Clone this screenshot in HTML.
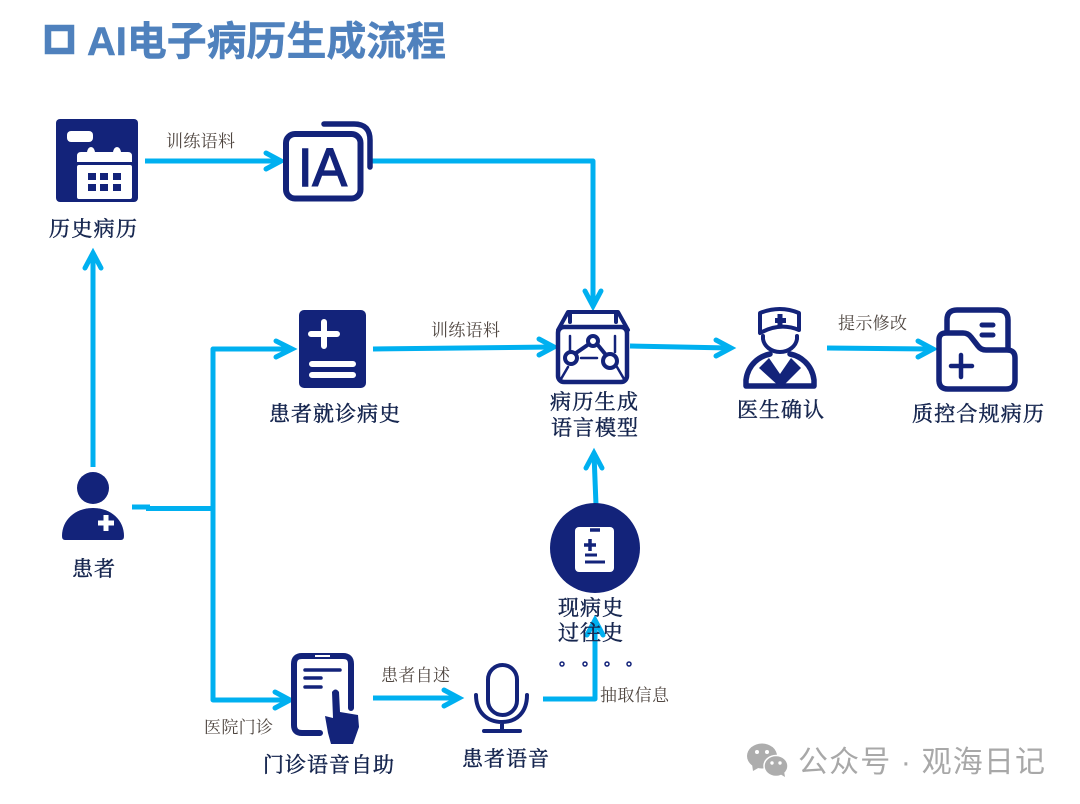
<!DOCTYPE html>
<html lang="zh">
<head>
<meta charset="utf-8">
<title>AI电子病历生成流程</title>
<style>
html,body{margin:0;padding:0;background:#fff;width:1080px;height:804px;overflow:hidden}
svg{display:block}
.b{font-family:"Liberation Serif","Noto Serif CJK SC",serif;font-weight:400;font-size:21px;fill:#16264f;stroke:#16264f;stroke-width:0.450px}
.s{font-family:"Liberation Serif","Noto Serif CJK SC",serif;font-size:17px;fill:#4f4640}
.l{fill:none;stroke:#00b0f0;stroke-width:5;stroke-linejoin:round}
.h{fill:none;stroke:#00b0f0;stroke-width:5;stroke-linecap:round;stroke-linejoin:miter}
.n{fill:none;stroke:#13237a;stroke-linecap:round;stroke-linejoin:round}
.w{fill:none;stroke:#fff;stroke-linecap:round}
</style>
</head>
<body>
<svg width="1080" height="804" viewBox="0 0 1080 804" xmlns="http://www.w3.org/2000/svg">
<!-- title -->
<rect x="48" y="28" width="23" height="23" fill="none" stroke="#4f81bd" stroke-width="6.500"/>
<text x="87" y="55" font-family="'Liberation Sans','Noto Sans CJK SC',sans-serif" font-weight="700" font-size="40" fill="#4f81bd" stroke="#4f81bd" stroke-width="0.500" textLength="359" lengthAdjust="spacingAndGlyphs">AI电子病历生成流程</text>

<!-- connectors -->
<path class="l" d="M145 161H280"/><path class="h" d="M266 153L281 161L266 169"/>
<path class="l" d="M371 161H593V305"/><path class="h" d="M585 291L593 306L601 291"/>
<path class="l" d="M93 467V254"/><path class="h" d="M85 268L93 253L101 268"/>
<path class="l" d="M132 507H150"/><path class="l" d="M146 508.500H213"/>
<path class="l" d="M213 700V349H291"/><path class="h" d="M276 341L292 349L276 357"/>
<path class="l" d="M213 400V700H289"/><path class="h" d="M275 692L290 700L275 708"/>
<path class="l" d="M373 349L553 347"/><path class="h" d="M539 339L554 347L539 355"/>
<path class="l" d="M630 346L730 348"/><path class="h" d="M716 340L731 348L716 356"/>
<path class="l" d="M827 348L932 349"/><path class="h" d="M918 341L933 349L918 357"/>
<path class="l" d="M373 698H458"/><path class="h" d="M444 690L459 698L444 706"/>
<path class="l" d="M596 505L594 454"/><path class="h" d="M586 468L594 453L602 468"/>
<path class="l" d="M543 699H595V621"/><path class="h" d="M587 635L595 620L603 635"/>

<!-- calendar -->
<rect x="56" y="119" width="82" height="83" rx="4" fill="#13237a"/>
<rect x="67" y="131" width="26" height="11" rx="4" fill="#fff"/>
<path d="M77 162V156Q77 152 81 152H87Q88 147 91 147Q94 147 95 152H113Q114 147 117 147Q120 147 121 152H128Q132 152 132 156V162Z" fill="#fff"/>
<rect x="77" y="165" width="55" height="34" rx="2" fill="#fff"/>
<g fill="#13237a">
<rect x="88" y="173" width="8" height="7"/><rect x="100" y="173" width="8" height="7"/><rect x="113" y="173" width="8" height="7"/>
<rect x="88" y="184" width="8" height="7"/><rect x="100" y="184" width="8" height="7"/><rect x="113" y="184" width="8" height="7"/>
</g>
<!-- IA -->
<rect x="286" y="134" width="74.500" height="64.500" rx="9" class="n" stroke-width="6"/>
<path class="n" stroke-width="5.500" d="M324 124H354Q370 124 370 140V167"/>
<text x="298" y="186" font-family="'Liberation Sans',sans-serif" font-weight="400" font-size="54" fill="#13237a" stroke="#13237a" stroke-width="1.500" textLength="49" lengthAdjust="spacingAndGlyphs">IA</text>
<!-- book -->
<rect x="299" y="310" width="67" height="78" rx="5" fill="#13237a"/>
<path class="w" stroke-width="6" d="M311 334H337M324 322V346"/>
<path class="w" stroke-width="6" d="M312 364H353M312 375H353"/>
<!-- patient -->
<circle cx="93" cy="488" r="16" fill="#13237a"/>
<path d="M62 536C62 520 75 508 93 508C111 508 124 520 124 536Q124 540 121 540H65Q62 540 62 536Z" fill="#13237a"/>
<path stroke="#fff" fill="none" stroke-width="5" d="M98 523H114M106 515V531"/>
<!-- model -->
<rect x="558" y="327" width="69" height="55" rx="6" class="n" stroke-width="4.500"/>
<path class="n" stroke-width="4" d="M558 330L568 312H618L628 330M570 312V322M616 312V322"/>
<path class="n" stroke-width="2.500" d="M570 336V352M615 336V352M581 358H597M561 379L568 367M624 379L617 367"/>
<path class="n" stroke-width="4" d="M576 353L589 344M597 344L606 355"/>
<circle cx="571" cy="358" r="6" class="n" stroke-width="4"/>
<circle cx="593" cy="341" r="5" class="n" stroke-width="4"/>
<circle cx="610" cy="361" r="7" class="n" stroke-width="4"/>
<!-- doctor -->
<path class="n" stroke-width="4" d="M760 313Q780 305 799 313V330Q780 322 760 333Z"/>
<path d="M775 318H777.500V314H782.500V318H786V323H782.500V327H777.500V323H775Z" fill="#13237a"/>
<path class="n" stroke-width="4" d="M763 336V339C764 346 771 352 780 352C789 352 796 346 797 339V336"/>
<path class="n" stroke-width="5.500" d="M746 386V380C748 364 760 356 770 354M814 386V380C812 364 800 356 790 354M746 386H814"/>
<path d="M759 368L769 358L780 374L791 358L801 368L781 388Z" fill="#13237a"/>
<!-- folder -->
<path class="n" stroke-width="5.500" d="M947 330V320Q947 310 957 310H998Q1008 310 1008 320V348"/>
<path class="n" stroke-width="5.500" d="M939 380V340Q939 333 946 333H963Q968 333 971 337L978 346Q981 350 986 350H1007Q1015 350 1015 358V380Q1015 389 1006 389H948Q939 389 939 380Z"/>
<path class="n" stroke-width="4.500" d="M951 366H972M961 355V377"/>
<path class="n" stroke-width="5" d="M982 325H993M982 335H993"/>
<!-- clipboard circle -->
<circle cx="595" cy="548" r="45" fill="#13237a"/>
<rect x="575" y="527" width="39" height="45" rx="4" fill="#fff"/>
<g stroke="#13237a" fill="none">
<path stroke-width="3.500" d="M590 530H600"/>
<path stroke-width="3.500" d="M584 545H596M590 539V551"/>
<path stroke-width="3" d="M585 555H597M585 562H605"/>
</g>
<!-- tablet -->
<path class="n" stroke-width="6" d="M351 708V664Q351 656 343 656H302Q294 656 294 664V725Q294 733 302 733H320"/>
<path stroke="#fff" stroke-width="2" d="M315 656H330"/>
<path class="n" stroke-width="3.500" d="M305 670H340M305 678H321M305 687H321"/>
<path d="M332 692Q335.500 687 339 692L340 712L358 715L359 727L353 744H331L328 733L325 716L333 718Z" fill="#13237a"/>
<!-- mic -->
<rect x="488" y="665" width="29" height="50" rx="14.500" class="n" stroke-width="4"/>
<path class="n" stroke-width="4" d="M476 695C476 712 487 722 502 722C517 722 527 712 527 695M502 722V731M484 731H520"/>

<!-- bold labels -->
<text class="b" x="49" y="236" textLength="88">历史病历</text>
<text class="b" x="269" y="421" textLength="131">患者就诊病史</text>
<text class="b" x="550" y="409" textLength="88">病历生成</text>
<text class="b" x="551" y="435" textLength="87">语言模型</text>
<text class="b" x="737" y="417" textLength="87">医生确认</text>
<text class="b" x="912" y="421" textLength="132">质控合规病历</text>
<text class="b" x="72" y="576" textLength="43">患者</text>
<text class="b" x="558" y="615" textLength="65">现病史</text>
<text class="b" x="558" y="640" textLength="65">过往史</text>
<text class="b" x="263" y="772" textLength="131">门诊语音自助</text>
<text class="b" x="462" y="766" textLength="87">患者语音</text>
<g fill="none" stroke="#13237a" stroke-width="1.500">
<circle cx="562" cy="664" r="2"/><circle cx="585" cy="664" r="2"/><circle cx="607" cy="664" r="2"/><circle cx="629" cy="664" r="2"/>
</g>
<!-- small labels -->
<text class="s" x="166" y="147" textLength="69">训练语料</text>
<text class="s" x="431" y="336" textLength="69">训练语料</text>
<text class="s" x="838" y="329" textLength="69">提示修改</text>
<text class="s" x="381" y="681" textLength="69">患者自述</text>
<text class="s" x="600" y="701" textLength="69">抽取信息</text>
<text class="s" x="204" y="733" textLength="69">医院门诊</text>

<!-- watermark -->
<g fill="#adadad">
<ellipse cx="762" cy="756" rx="15" ry="12.500"/>
<path d="M752 764L753 771L760 767Z"/>
<ellipse cx="776" cy="766" rx="12" ry="10.500" stroke="#fff" stroke-width="1.500"/>
<path d="M780 774L785 777L784 771Z"/>
</g>
<g fill="#fff">
<circle cx="757" cy="752" r="2"/><circle cx="767" cy="752" r="2"/>
<circle cx="772" cy="763" r="1.700"/><circle cx="780" cy="763" r="1.700"/>
</g>
<text x="798" y="772" font-family="'Liberation Sans','Noto Sans CJK SC',sans-serif" font-size="30" fill="#a8a8a8" textLength="247">公众号 · 观海日记</text>
</svg>
</body>
</html>
